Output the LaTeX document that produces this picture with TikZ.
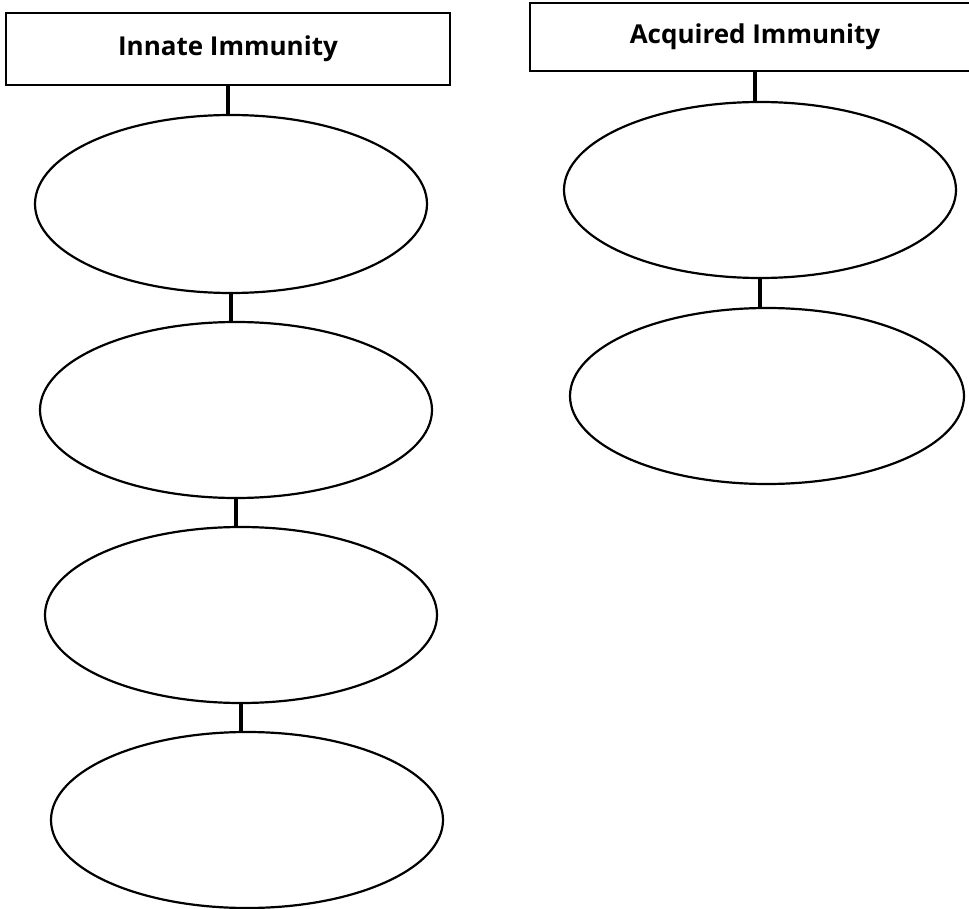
\documentclass[tikz,border=0pt]{standalone}
\usepackage{fontspec}
\setmainfont{Open Sans}
\usetikzlibrary{shapes.geometric}

\begin{document}
\begin{tikzpicture}[x=0.5pt,y=-0.5pt,
  head/.style={rectangle,draw=black,line width=1pt,inner sep=0pt,font=\bfseries\fontsize{13}{15}\selectfont},
  blob/.style={ellipse,draw=black,line width=1.1pt,inner sep=0pt,minimum width=196pt,minimum height=88pt},
  link/.style={line width=2pt}]
% \draw[help lines] (0,0) grid (969,909);
\useasboundingbox (0,0) rectangle (969,909);
\node (innate) [head,minimum width=222pt,minimum height=36pt] at (228,49) {Innate Immunity};
\node (acq) [head,minimum width=225pt,minimum height=34pt] at (755,37) {Acquired Immunity};
%
\node (i1) [blob,minimum height=89pt] at (231,204) {};
\node (i2) [blob] at (236,410) {};
\node (i3) [blob] at (241,615) {};
\node (i4) [blob] at (247,820) {};
\node (a1) [blob] at (760,190) {};
\node (a2) [blob,minimum width=197pt] at (767,396) {};
%
\draw[link] (innate.south) -- (innate.south |- i1.north);
\draw[link] (i1.south) -- (i1.south |- i2.north);
\draw[link] (i2.south) -- (i2.south |- i3.north);
\draw[link] (i3.south) -- (i3.south |- i4.north);
\draw[link] (acq.south) -- (acq.south |- a1.north);
\draw[link] (a1.south) -- (a1.south |- a2.north);
\end{tikzpicture}
\end{document}
